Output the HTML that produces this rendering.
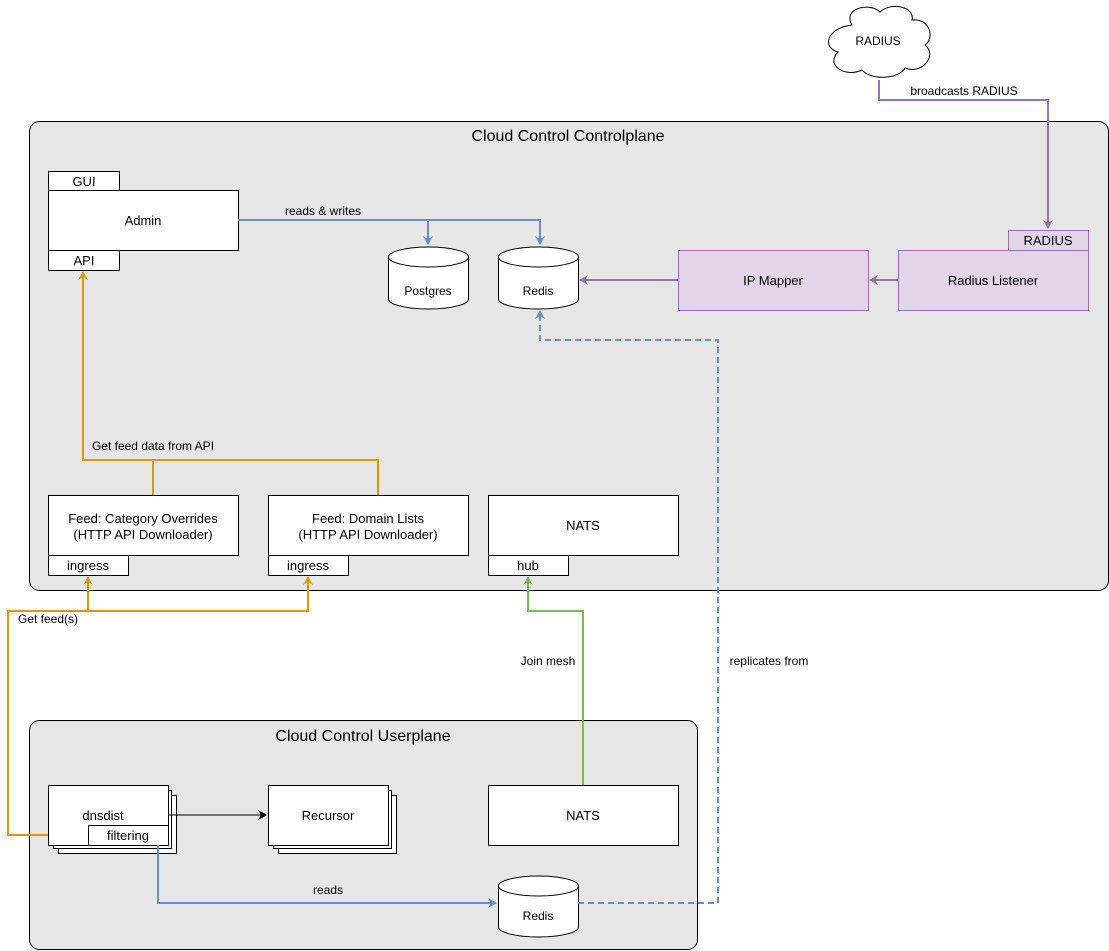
<!DOCTYPE html>
<html><head><meta charset="utf-8"><style>
html,body{margin:0;padding:0;background:#fff;}
svg{display:block;font-family:"Liberation Sans",Arial,sans-serif;}
.n{font-size:13px;}
</style></head><body>
<svg width="1109" height="951" viewBox="0 0 1109 951" xmlns="http://www.w3.org/2000/svg">
<defs>
<marker id="ab" markerWidth="10" markerHeight="10" refX="8" refY="5" orient="auto" markerUnits="userSpaceOnUse"><path d="M0,0 L9,5 L0,10 L3,5 Z" fill="#6c8ebf"/></marker>
<marker id="ap" markerWidth="10" markerHeight="10" refX="8" refY="5" orient="auto" markerUnits="userSpaceOnUse"><path d="M0,0 L9,5 L0,10 L3,5 Z" fill="#9673a6"/></marker>
<marker id="ao" markerWidth="10" markerHeight="10" refX="8" refY="5" orient="auto" markerUnits="userSpaceOnUse"><path d="M0,0 L9,5 L0,10 L3,5 Z" fill="#d79b00"/></marker>
<marker id="ag" markerWidth="10" markerHeight="10" refX="8" refY="5" orient="auto" markerUnits="userSpaceOnUse"><path d="M0,0 L9,5 L0,10 L3,5 Z" fill="#82b366"/></marker>
<marker id="ak" markerWidth="10" markerHeight="10" refX="8" refY="5" orient="auto" markerUnits="userSpaceOnUse"><path d="M0,0 L9,5 L0,10 L3,5 Z" fill="#000"/></marker>
</defs>

<rect x="29.5" y="121.5" width="1079" height="469" rx="10" fill="#e6e6e6" stroke="#000"/>
<text x="568" y="141" font-size="16" text-anchor="middle">Cloud Control Controlplane</text>
<rect x="29.5" y="720.5" width="668" height="229" rx="10" fill="#e6e6e6" stroke="#000"/>
<text x="363" y="741" font-size="16" text-anchor="middle">Cloud Control Userplane</text>

<path d="M852,25 C842,8 870,2 880,12 C890,2 915,6 912,20 C930,18 935,38 925,45 C938,55 922,75 905,68 C898,80 870,80 862,70 C845,78 825,65 838,52 C822,48 826,28 852,25 Z" fill="#fff" stroke="#000"/>
<text x="878" y="45" font-size="12" text-anchor="middle">RADIUS</text>
<polyline points="879,80 879,100 1048,100 1048,228" fill="none" stroke="#9673a6" stroke-width="2" marker-end="url(#ap)"/>
<text x="964" y="95" font-size="12" text-anchor="middle">broadcasts RADIUS</text>

<rect x="48.5" y="171.5" width="71" height="19" fill="#fff" stroke="#000"/>
<text class="n" x="84" y="186" text-anchor="middle">GUI</text>
<rect x="48.5" y="190.5" width="190" height="60" fill="#fff" stroke="#000"/>
<text class="n" x="143" y="225" text-anchor="middle">Admin</text>
<rect x="48.5" y="250.5" width="71" height="20" fill="#fff" stroke="#000"/>
<text class="n" x="84" y="265" text-anchor="middle">API</text>

<polyline points="238,220 540,220 540,244" fill="none" stroke="#6c8ebf" stroke-width="2" marker-end="url(#ab)"/>
<polyline points="428,220 428,244" fill="none" stroke="#6c8ebf" stroke-width="2" marker-end="url(#ab)"/>
<text x="323" y="215" font-size="12" text-anchor="middle">reads &amp; writes</text>

<g fill="#fff" stroke="#000">
<path d="M388.5,257 A40,10 0 0 1 468.5,257 L468.5,299 A40,10 0 0 1 388.5,299 Z"/>
<path d="M388.5,257 A40,10 0 0 0 468.5,257" fill="none"/>
<path d="M498.5,257 A40,10 0 0 1 578.5,257 L578.5,299 A40,10 0 0 1 498.5,299 Z"/>
<path d="M498.5,257 A40,10 0 0 0 578.5,257" fill="none"/>
<path d="M498.5,886 A40,10 0 0 1 578.5,886 L578.5,927 A40,10 0 0 1 498.5,927 Z"/>
<path d="M498.5,886 A40,10 0 0 0 578.5,886" fill="none"/>
</g>
<text x="428" y="295" font-size="12" text-anchor="middle">Postgres</text>
<text x="538" y="295" font-size="12" text-anchor="middle">Redis</text>
<text x="538" y="920" font-size="12" text-anchor="middle">Redis</text>

<rect x="1008.5" y="230.5" width="80" height="20" fill="#e1d5e7" stroke="#9673a6"/>
<text class="n" x="1048" y="245" text-anchor="middle">RADIUS</text>
<rect x="898.5" y="250.5" width="190" height="60" fill="#e1d5e7" stroke="#9673a6"/>
<text class="n" x="993" y="285" text-anchor="middle">Radius Listener</text>
<rect x="678.5" y="250.5" width="190" height="60" fill="#e1d5e7" stroke="#9673a6"/>
<text class="n" x="773" y="285" text-anchor="middle">IP Mapper</text>
<line x1="898" y1="280" x2="870" y2="280" stroke="#9673a6" stroke-width="2" marker-end="url(#ap)"/>
<line x1="678" y1="280" x2="580" y2="280" stroke="#9673a6" stroke-width="2" marker-end="url(#ap)"/>

<polyline points="578,903 718,903 718,340 540,340 540,311" fill="none" stroke="#6c8ebf" stroke-width="2" stroke-dasharray="6,4" marker-end="url(#ab)"/>
<text x="769" y="665" font-size="12" text-anchor="middle">replicates from</text>

<rect x="48.5" y="495.5" width="190" height="60" fill="#fff" stroke="#000"/>
<text class="n" x="143" y="523" text-anchor="middle">Feed: Category Overrides</text>
<text class="n" x="143" y="539" text-anchor="middle">(HTTP API Downloader)</text>
<rect x="48.5" y="555.5" width="80" height="20" fill="#fff" stroke="#000"/>
<text class="n" x="88" y="570" text-anchor="middle">ingress</text>
<rect x="268.5" y="495.5" width="200" height="60" fill="#fff" stroke="#000"/>
<text class="n" x="368" y="523" text-anchor="middle">Feed: Domain Lists</text>
<text class="n" x="368" y="539" text-anchor="middle">(HTTP API Downloader)</text>
<rect x="268.5" y="555.5" width="80" height="20" fill="#fff" stroke="#000"/>
<text class="n" x="308" y="570" text-anchor="middle">ingress</text>
<rect x="488.5" y="495.5" width="190" height="60" fill="#fff" stroke="#000"/>
<text class="n" x="583" y="530" text-anchor="middle">NATS</text>
<rect x="488.5" y="555.5" width="80" height="20" fill="#fff" stroke="#000"/>
<text class="n" x="528" y="570" text-anchor="middle">hub</text>

<polyline points="153,495 153,460 83,460 83,272" fill="none" stroke="#d79b00" stroke-width="2" marker-end="url(#ao)"/>
<polyline points="153,460 378,460 378,495" fill="none" stroke="#d79b00" stroke-width="2"/>
<text x="153" y="450" font-size="12" text-anchor="middle">Get feed data from API</text>

<polyline points="88,835 8,835 8,611 88,611 88,577" fill="none" stroke="#d79b00" stroke-width="2" marker-end="url(#ao)"/>
<polyline points="88,611 308,611 308,577" fill="none" stroke="#d79b00" stroke-width="2" marker-end="url(#ao)"/>
<text x="48" y="623" font-size="12" text-anchor="middle">Get feed(s)</text>

<polyline points="583,785 583,611 528,611 528,577" fill="none" stroke="#82b366" stroke-width="2" marker-end="url(#ag)"/>
<text x="548" y="665" font-size="12" text-anchor="middle">Join mesh</text>

<g fill="#fff" stroke="#000">
<rect x="58.5" y="795.5" width="118" height="58"/>
<rect x="53.5" y="790.5" width="118" height="58"/>
<rect x="48.5" y="785.5" width="120" height="60"/>
<rect x="278.5" y="795.5" width="118" height="58"/>
<rect x="273.5" y="790.5" width="118" height="58"/>
<rect x="268.5" y="785.5" width="120" height="60"/>
<rect x="88.5" y="825.5" width="80" height="20"/>
<rect x="488.5" y="785.5" width="190" height="60"/>
</g>
<text class="n" x="103" y="820" text-anchor="middle">dnsdist</text>
<text class="n" x="128" y="840" text-anchor="middle">filtering</text>
<text class="n" x="328" y="820" text-anchor="middle">Recursor</text>
<text class="n" x="583" y="820" text-anchor="middle">NATS</text>
<line x1="168" y1="815" x2="266" y2="815" stroke="#000" stroke-width="1" marker-end="url(#ak)"/>

<polyline points="158,845 158,903 496,903" fill="none" stroke="#6c8ebf" stroke-width="2" marker-end="url(#ab)"/>
<text x="328" y="894" font-size="12" text-anchor="middle">reads</text>
</svg>
</body></html>
